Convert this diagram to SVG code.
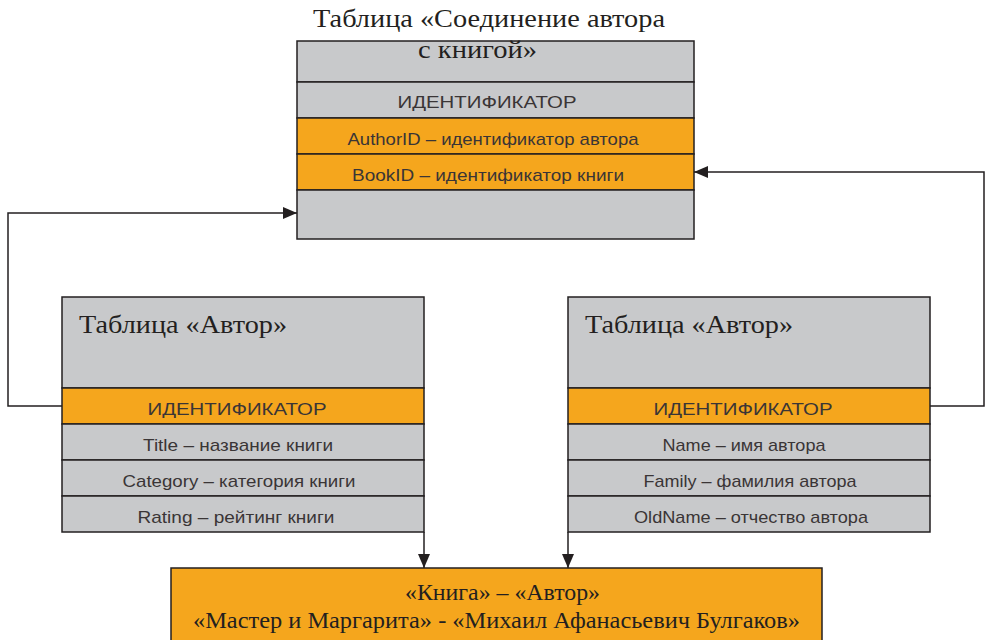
<svg xmlns="http://www.w3.org/2000/svg" width="985" height="640" viewBox="0 0 985 640">
<style>
.g{fill:#C8C9CB;stroke:#231F20;stroke-width:1.5}
.o{fill:#F5A61D;stroke:#231F20;stroke-width:1.5}
.t{font-family:"Liberation Serif",serif;fill:#231F20}
.r{font-family:"Liberation Sans",Arial,sans-serif;font-size:17px;fill:#3A3536;text-anchor:middle}
.c{fill:none;stroke:#231F20;stroke-width:1.5}
</style>
<defs>
<marker id="a" markerWidth="14" markerHeight="12" refX="14" refY="6" orient="auto" markerUnits="userSpaceOnUse" viewBox="0 0 14 12">
<path d="M0,0 L14,6 L0,12 Z" fill="#231F20"/>
</marker>
</defs>
<rect width="985" height="640" fill="#fff"/>
<g id="connectors">
<polyline class="c" points="62,406 8,406 8,213 297,213" marker-end="url(#a)"/>
<polyline class="c" points="930,406 984,406 984,172 694,172" marker-end="url(#a)"/>
<line class="c" x1="424" y1="532" x2="424" y2="568" marker-end="url(#a)"/>
<line class="c" x1="568" y1="532" x2="568" y2="568" marker-end="url(#a)"/>
</g>
<g id="link-table">
<text class="t" x="313" y="27" font-size="25" textLength="352" lengthAdjust="spacingAndGlyphs">Таблица «Соединение автора</text>
<rect class="g" x="297" y="41" width="397" height="41"/>
<text class="t" x="418" y="58" font-size="25" textLength="119" lengthAdjust="spacingAndGlyphs">с книгой»</text>
<rect class="g" x="297" y="82" width="397" height="36"/>
<text class="r" x="487" y="108" textLength="179" lengthAdjust="spacingAndGlyphs">ИДЕНТИФИКАТОР</text>
<rect class="o" x="297" y="118" width="397" height="36"/>
<text class="r" x="493" y="145" textLength="291" lengthAdjust="spacingAndGlyphs">AuthorID – идентификатор автора</text>
<rect class="o" x="297" y="154" width="397" height="36"/>
<text class="r" x="488" y="181" textLength="272" lengthAdjust="spacingAndGlyphs">BookID – идентификатор книги</text>
<rect class="g" x="297" y="190" width="397" height="49"/>
</g>
<g id="book-table">
<rect class="g" x="62" y="297" width="362" height="91"/>
<text class="t" x="79" y="333" font-size="26" textLength="208" lengthAdjust="spacingAndGlyphs">Таблица «Автор»</text>
<rect class="o" x="62" y="388" width="362" height="36"/>
<text class="r" x="237" y="415" textLength="179" lengthAdjust="spacingAndGlyphs">ИДЕНТИФИКАТОР</text>
<rect class="g" x="62" y="424" width="362" height="36"/>
<text class="r" x="238" y="451" textLength="190" lengthAdjust="spacingAndGlyphs">Title – название книги</text>
<rect class="g" x="62" y="460" width="362" height="36"/>
<text class="r" x="239" y="487" textLength="233" lengthAdjust="spacingAndGlyphs">Category – категория книги</text>
<rect class="g" x="62" y="496" width="362" height="36"/>
<text class="r" x="236" y="523" textLength="197" lengthAdjust="spacingAndGlyphs">Rating – рейтинг книги</text>
</g>
<g id="author-table">
<rect class="g" x="568" y="297" width="362" height="91"/>
<text class="t" x="585" y="333" font-size="26" textLength="208" lengthAdjust="spacingAndGlyphs">Таблица «Автор»</text>
<rect class="o" x="568" y="388" width="362" height="36"/>
<text class="r" x="743" y="415" textLength="179" lengthAdjust="spacingAndGlyphs">ИДЕНТИФИКАТОР</text>
<rect class="g" x="568" y="424" width="362" height="36"/>
<text class="r" x="744" y="451" textLength="163" lengthAdjust="spacingAndGlyphs">Name – имя автора</text>
<rect class="g" x="568" y="460" width="362" height="36"/>
<text class="r" x="750" y="487" textLength="213" lengthAdjust="spacingAndGlyphs">Family – фамилия автора</text>
<rect class="g" x="568" y="496" width="362" height="36"/>
<text class="r" x="751" y="523" textLength="234" lengthAdjust="spacingAndGlyphs">OldName – отчество автора</text>
</g>
<g id="result">
<rect class="o" x="171" y="568" width="651" height="80"/>
<text class="t" x="405" y="600" font-size="24" textLength="195" lengthAdjust="spacingAndGlyphs">«Книга» – «Автор»</text>
<text class="t" x="193" y="628" font-size="24" textLength="607" lengthAdjust="spacingAndGlyphs">«Мастер и Маргарита» - «Михаил Афанасьевич Булгаков»</text>
</g>
</svg>
